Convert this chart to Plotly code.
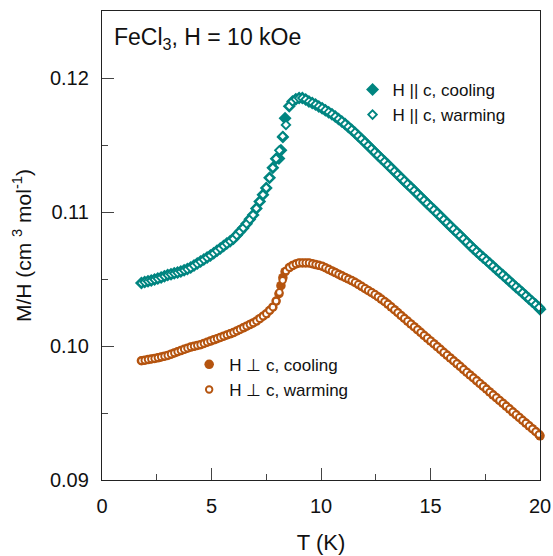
import plotly.graph_objects as go

# ---------------- data ----------------
T_warm = [1.80, 1.95, 2.10, 2.25, 2.40, 2.55, 2.70, 2.85, 3.00, 3.15, 3.30, 3.45, 3.60, 3.75, 3.90,
          4.05, 4.20, 4.35, 4.50, 4.65, 4.80, 4.95, 5.10, 5.25, 5.40, 5.55, 5.70, 5.85, 6.00, 6.15,
          6.30, 6.45, 6.60, 6.75, 6.90, 7.05, 7.20, 7.35, 7.50, 7.65, 7.80, 7.95, 8.10, 8.25, 8.40,
          8.55, 8.70, 8.85, 9.00, 9.15, 9.30, 9.45, 9.60, 9.75, 9.90, 10.05, 10.20, 10.35, 10.50, 10.65,
          10.80, 10.95, 11.10, 11.25, 11.40, 11.55, 11.70, 11.85, 12.00, 12.15, 12.30, 12.45, 12.60, 12.75, 12.90,
          13.05, 13.20, 13.35, 13.50, 13.65, 13.80, 13.95, 14.10, 14.25, 14.40, 14.55, 14.70, 14.85, 15.00, 15.15,
          15.30, 15.45, 15.60, 15.75, 15.90, 16.05, 16.20, 16.35, 16.50, 16.65, 16.80, 16.95, 17.10, 17.25, 17.40,
          17.55, 17.70, 17.85, 18.00, 18.15, 18.30, 18.45, 18.60, 18.75, 18.90, 19.05, 19.20, 19.35, 19.50, 19.65,
          19.80, 19.95]

par_warm = [0.10470, 0.10477, 0.10483, 0.10489, 0.10496, 0.10503, 0.10512, 0.10521, 0.10530, 0.10536,
            0.10542, 0.10548, 0.10556, 0.10565, 0.10574, 0.10585, 0.10600, 0.10615, 0.10630, 0.10645,
            0.10660, 0.10675, 0.10692, 0.10710, 0.10728, 0.10746, 0.10764, 0.10782, 0.10800, 0.10827,
            0.10854, 0.10881, 0.10912, 0.10945, 0.10978, 0.11027, 0.11078, 0.11129, 0.11180, 0.11255,
            0.11330, 0.11398, 0.11460, 0.11565, 0.11650, 0.11790, 0.11825, 0.11842, 0.11850, 0.11850,
            0.11840, 0.11825, 0.11814, 0.11802, 0.11788, 0.11775, 0.11760, 0.11745, 0.11730, 0.11712,
            0.11694, 0.11676, 0.11656, 0.11635, 0.11614, 0.11592, 0.11568, 0.11544, 0.11520, 0.11496,
            0.11472, 0.11448, 0.11424, 0.11400, 0.11376, 0.11352, 0.11328, 0.11304, 0.11280, 0.11256,
            0.11232, 0.11208, 0.11184, 0.11160, 0.11136, 0.11112, 0.11088, 0.11064, 0.11040, 0.11016,
            0.10992, 0.10968, 0.10944, 0.10920, 0.10896, 0.10872, 0.10848, 0.10824, 0.10800, 0.10776,
            0.10752, 0.10728, 0.10705, 0.10683, 0.10661, 0.10639, 0.10617, 0.10595, 0.10573, 0.10551,
            0.10529, 0.10507, 0.10485, 0.10463, 0.10441, 0.10419, 0.10397, 0.10375, 0.10353, 0.10331,
            0.10309, 0.10287]

perp_warm = [0.09890, 0.09894, 0.09899, 0.09903, 0.09907, 0.09912, 0.09918, 0.09924, 0.09930, 0.09939,
             0.09948, 0.09957, 0.09966, 0.09975, 0.09984, 0.09992, 0.09998, 0.10004, 0.10010, 0.10019,
             0.10028, 0.10037, 0.10046, 0.10055, 0.10064, 0.10073, 0.10082, 0.10091, 0.10100, 0.10112,
             0.10124, 0.10136, 0.10148, 0.10160, 0.10172, 0.10186, 0.10204, 0.10222, 0.10240, 0.10265,
             0.10290, 0.10335, 0.10400, 0.10490, 0.10560, 0.10585, 0.10600, 0.10612, 0.10620, 0.10620,
             0.10620, 0.10620, 0.10614, 0.10608, 0.10602, 0.10596, 0.10584, 0.10572, 0.10560, 0.10548,
             0.10536, 0.10524, 0.10512, 0.10500, 0.10488, 0.10475, 0.10460, 0.10445, 0.10430, 0.10415,
             0.10400, 0.10385, 0.10368, 0.10350, 0.10332, 0.10313, 0.10292, 0.10271, 0.10250, 0.10228,
             0.10207, 0.10186, 0.10165, 0.10144, 0.10123, 0.10102, 0.10080, 0.10059, 0.10038, 0.10017,
             0.09996, 0.09975, 0.09953, 0.09932, 0.09911, 0.09890, 0.09869, 0.09848, 0.09826, 0.09805,
             0.09784, 0.09763, 0.09742, 0.09721, 0.09700, 0.09679, 0.09657, 0.09636, 0.09615, 0.09594,
             0.09573, 0.09552, 0.09531, 0.09509, 0.09488, 0.09467, 0.09446, 0.09425, 0.09404, 0.09383,
             0.09362, 0.09340]

T_cool = [1.80, 1.95, 2.10, 2.25, 2.40, 2.55, 2.70, 2.85, 3.00, 3.15, 3.30, 3.45, 3.60, 3.75, 3.90,
          4.05, 4.20, 4.35, 4.50, 4.65, 4.80, 4.95, 5.10, 5.25, 5.40, 5.55, 5.70, 5.85, 6.00, 6.15,
          6.30, 6.45, 6.60, 6.75, 6.90, 7.05, 7.20, 7.35, 7.50, 7.65, 7.80, 7.95, 8.08, 8.17, 8.26,
          8.36, 8.55, 8.70, 8.85, 9.00, 9.15, 9.30, 9.45, 9.60, 9.75, 9.90, 10.05, 10.20, 10.35, 10.50, 10.65,
          10.80, 10.95, 11.10, 11.25, 11.40, 11.55, 11.70, 11.85, 12.00, 12.15, 12.30, 12.45, 12.60, 12.75, 12.90,
          13.05, 13.20, 13.35, 13.50, 13.65, 13.80, 13.95, 14.10, 14.25, 14.40, 14.55, 14.70, 14.85, 15.00, 15.15,
          15.30, 15.45, 15.60, 15.75, 15.90, 16.05, 16.20, 16.35, 16.50, 16.65, 16.80, 16.95, 17.10, 17.25, 17.40,
          17.55, 17.70, 17.85, 18.00, 18.15, 18.30, 18.45, 18.60, 18.75, 18.90, 19.05, 19.20, 19.35, 19.50, 19.65,
          19.80, 19.95, 20.00]

par_cool = [0.10470, 0.10477, 0.10483, 0.10489, 0.10496, 0.10503, 0.10512, 0.10521, 0.10530, 0.10536,
            0.10542, 0.10548, 0.10556, 0.10565, 0.10574, 0.10585, 0.10600, 0.10615, 0.10630, 0.10645,
            0.10660, 0.10675, 0.10692, 0.10710, 0.10728, 0.10746, 0.10764, 0.10782, 0.10800, 0.10827,
            0.10854, 0.10881, 0.10912, 0.10945, 0.10978, 0.11027, 0.11078, 0.11129, 0.11180, 0.11255,
            0.11330, 0.11398, 0.11400, 0.11460, 0.11560, 0.11700,
            0.11790, 0.11825, 0.11842, 0.11850, 0.11850,
            0.11840, 0.11825, 0.11814, 0.11802, 0.11788, 0.11775, 0.11760, 0.11745, 0.11730, 0.11712,
            0.11694, 0.11676, 0.11656, 0.11635, 0.11614, 0.11592, 0.11568, 0.11544, 0.11520, 0.11496,
            0.11472, 0.11448, 0.11424, 0.11400, 0.11376, 0.11352, 0.11328, 0.11304, 0.11280, 0.11256,
            0.11232, 0.11208, 0.11184, 0.11160, 0.11136, 0.11112, 0.11088, 0.11064, 0.11040, 0.11016,
            0.10992, 0.10968, 0.10944, 0.10920, 0.10896, 0.10872, 0.10848, 0.10824, 0.10800, 0.10776,
            0.10752, 0.10728, 0.10705, 0.10683, 0.10661, 0.10639, 0.10617, 0.10595, 0.10573, 0.10551,
            0.10529, 0.10507, 0.10485, 0.10463, 0.10441, 0.10419, 0.10397, 0.10375, 0.10353, 0.10331,
            0.10309, 0.10287, 0.10275]

perp_cool = [0.09890, 0.09894, 0.09899, 0.09903, 0.09907, 0.09912, 0.09918, 0.09924, 0.09930, 0.09939,
             0.09948, 0.09957, 0.09966, 0.09975, 0.09984, 0.09992, 0.09998, 0.10004, 0.10010, 0.10019,
             0.10028, 0.10037, 0.10046, 0.10055, 0.10064, 0.10073, 0.10082, 0.10091, 0.10100, 0.10112,
             0.10124, 0.10136, 0.10148, 0.10160, 0.10172, 0.10186, 0.10204, 0.10222, 0.10240, 0.10265,
             0.10290, 0.10335, 0.10390, 0.10450, 0.10510, 0.10555,
             0.10585, 0.10600, 0.10612, 0.10620, 0.10620,
             0.10620, 0.10620, 0.10614, 0.10608, 0.10602, 0.10596, 0.10584, 0.10572, 0.10560, 0.10548,
             0.10536, 0.10524, 0.10512, 0.10500, 0.10488, 0.10475, 0.10460, 0.10445, 0.10430, 0.10415,
             0.10400, 0.10385, 0.10368, 0.10350, 0.10332, 0.10313, 0.10292, 0.10271, 0.10250, 0.10228,
             0.10207, 0.10186, 0.10165, 0.10144, 0.10123, 0.10102, 0.10080, 0.10059, 0.10038, 0.10017,
             0.09996, 0.09975, 0.09953, 0.09932, 0.09911, 0.09890, 0.09869, 0.09848, 0.09826, 0.09805,
             0.09784, 0.09763, 0.09742, 0.09721, 0.09700, 0.09679, 0.09657, 0.09636, 0.09615, 0.09594,
             0.09573, 0.09552, 0.09531, 0.09509, 0.09488, 0.09467, 0.09446, 0.09425, 0.09404, 0.09383,
             0.09362, 0.09340, 0.09330]

x_ticks = [0, 5, 10, 15, 20]
y_ticks = [0.09, 0.10, 0.11, 0.12]
y_tick_labels = ["0.09", "0.10", "0.11", "0.12"]

TEAL = "#008580"
ORANGE = "#B5540F"
FONT = "Liberation Sans, Arial, sans-serif"

fig = go.Figure()

fig.add_trace(go.Scatter(
    x=T_cool, y=par_cool, mode="markers", name="H || c, cooling", legend="legend", cliponaxis=False,
    marker=dict(symbol="diamond", size=10, color=TEAL, line=dict(width=0))))
fig.add_trace(go.Scatter(
    x=T_warm, y=par_warm, mode="markers", name="H || c, warming", legend="legend", cliponaxis=False,
    marker=dict(symbol="diamond", size=6.5, color="white", line=dict(width=1.9, color=TEAL))))
fig.add_trace(go.Scatter(
    x=T_cool, y=perp_cool, mode="markers", name="H \u22a5 c, cooling", legend="legend2", cliponaxis=False,
    marker=dict(symbol="circle", size=9.5, color=ORANGE, line=dict(width=0))))
fig.add_trace(go.Scatter(
    x=T_warm, y=perp_warm, mode="markers", name="H \u22a5 c, warming", legend="legend2", cliponaxis=False,
    marker=dict(symbol="circle", size=6.5, color="white", line=dict(width=1.9, color=ORANGE))))

axis_common = dict(
    showgrid=False, zeroline=False, showline=True, linecolor="#222", linewidth=1.3,
    mirror=True, ticks="inside", ticklen=12, tickwidth=1.3, tickcolor="#444",
    tickfont=dict(family=FONT, size=20, color="#111"), automargin=False,
)

fig.update_xaxes(
    range=[0, 20], tickvals=x_ticks,
    minor=dict(ticks="inside", ticklen=6, dtick=2.5, tickcolor="#444", tickwidth=1.3),
    title=dict(text="T (K)", font=dict(family=FONT, size=22, color="#111"), standoff=18),
    ticklabelstandoff=8,
    **axis_common)
fig.update_yaxes(
    range=[0.09, 0.125], tickvals=y_ticks, ticktext=y_tick_labels,
    minor=dict(ticks="inside", ticklen=6, dtick=0.005, tickcolor="#444", tickwidth=1.3),
    title=dict(text="M/H (cm <sup>3</sup> mol<sup>-1</sup>)", font=dict(family=FONT, size=21, color="#111"),
               standoff=12),
    ticklabelstandoff=8,
    **axis_common)

fig.add_annotation(
    x=0.022, y=0.977, xref="paper", yref="paper", xanchor="left", yanchor="top",
    text="FeCl<sub>3</sub>, H = 10 kOe", showarrow=False,
    font=dict(family=FONT, size=23, color="#111"))

fig.update_layout(
    width=553, height=556,
    margin=dict(l=102, r=13, t=11, b=76, autoexpand=False),
    paper_bgcolor="white", plot_bgcolor="white",
    showlegend=True,
    legend=dict(x=0.572, y=0.87, xanchor="left", yanchor="top", bgcolor="rgba(0,0,0,0)",
                font=dict(family=FONT, size=17, color="#111"), itemsizing="trace",
                tracegroupgap=0, itemwidth=30),
    legend2=dict(x=0.199, y=0.284, xanchor="left", yanchor="top", bgcolor="rgba(0,0,0,0)",
                 font=dict(family=FONT, size=17, color="#111"), itemsizing="trace",
                 tracegroupgap=0, itemwidth=30),
)

fig.write_html("out.html")
